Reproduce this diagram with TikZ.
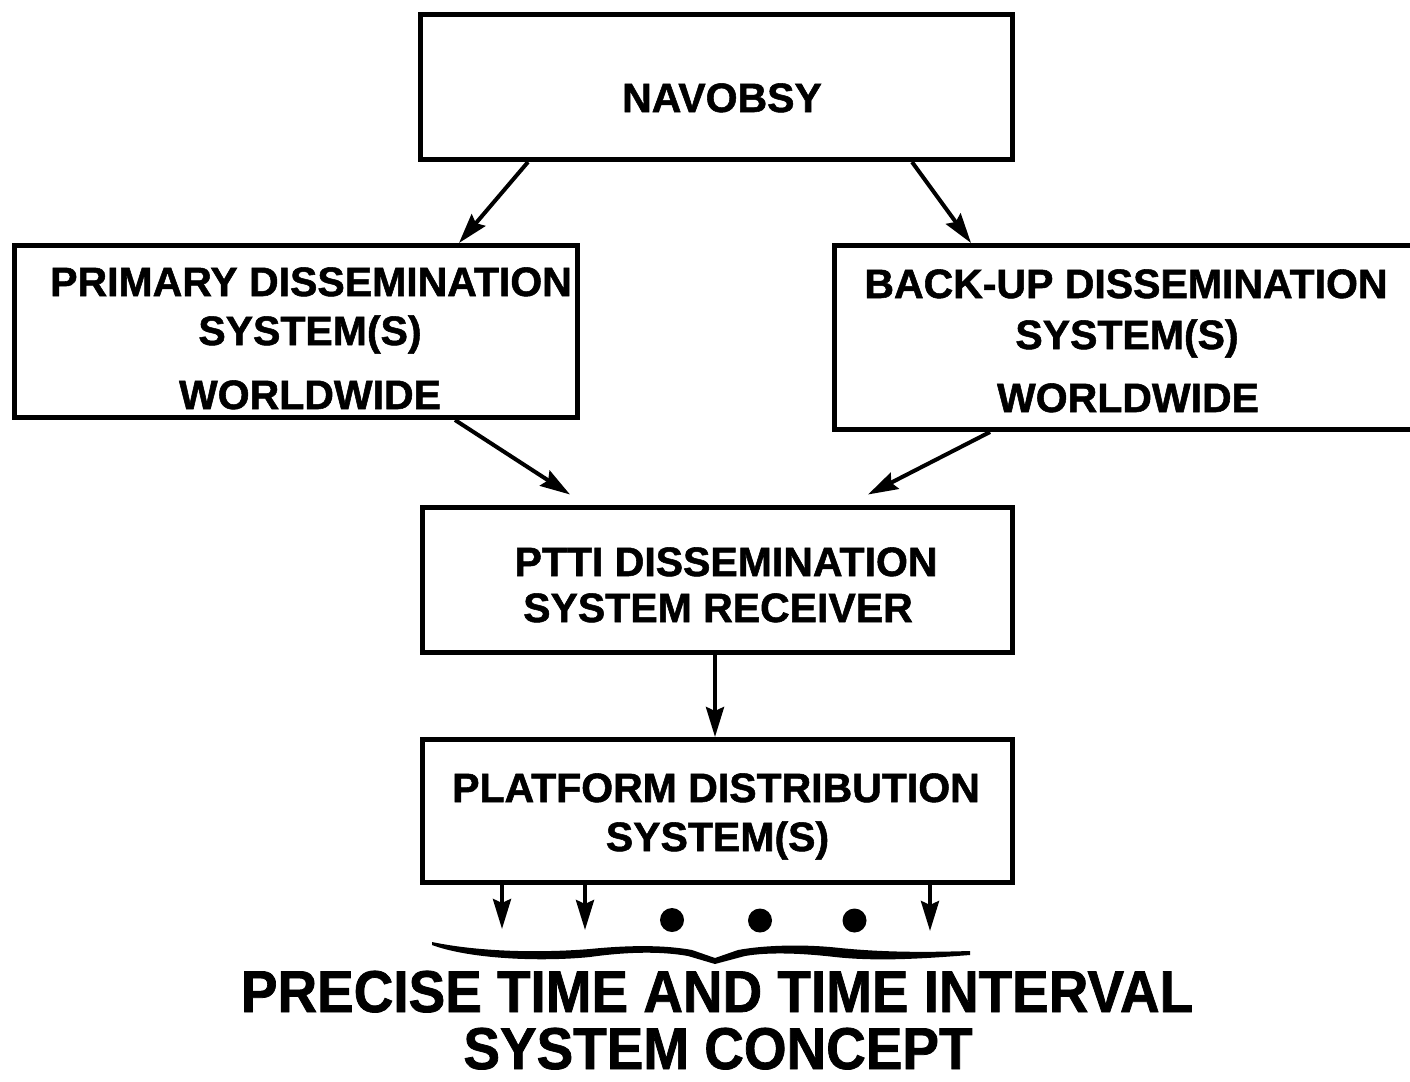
\documentclass[tikz,border=0pt]{standalone}
\usepackage{fontspec}
\setmainfont{Liberation Sans}[BoldFeatures={FakeBold=1.3}]
\usetikzlibrary{arrows.meta,calc}
\begin{document}
\begin{tikzpicture}[x=1pt,y=-1pt,
  box/.style={draw,line width=5pt,inner sep=0pt},
  txt/.style={font=\bfseries\fontsize{41}{41}\selectfont,anchor=base,inner sep=0pt},
  ttl/.style={font=\bfseries\fontsize{59}{59}\selectfont,anchor=base,inner sep=0pt},
  conn/.style={line width=4pt,-{Stealth[length=30pt,width=18pt,inset=4pt]}},
  dot/.style={circle,fill=black,minimum size=24pt,inner sep=0pt}]
\useasboundingbox (0,0) rectangle (1410,1081);
\clip (0,0) rectangle (1410,1081);

% boxes
\node[box,minimum width=592pt,minimum height=145pt] (nav) at (716.5,87) {};
\node[box,minimum width=563pt,minimum height=172pt] (prim) at (296,331.5) {};
\node[box,minimum width=585pt,minimum height=184pt] (back) at (1127,337.5) {};
\node[box,minimum width=590pt,minimum height=145pt] (ptti) at (717.5,580) {};
\node[box,minimum width=590pt,minimum height=143pt] (plat) at (717.5,811) {};

% texts
\node[txt] (navt) at (722,112) {NAVOBSY};
\node[txt] (prim1) at (311,296) {PRIMARY DISSEMINATION};
\node[txt] (prim2) at (310,345) {SYSTEM(S)};
\node[txt] (prim3) at (310,409) {WORLDWIDE};
\node[txt] (back1) at (1126,298) {BACK-UP DISSEMINATION};
\node[txt] (back2) at (1127,349) {SYSTEM(S)};
\node[txt] (back3) at (1128,412) {WORLDWIDE};
\node[txt] (ptti1) at (726,576) {PTTI DISSEMINATION};
\node[txt] (ptti2) at (718,622) {SYSTEM RECEIVER};
\node[txt] (plat1) at (716,802) {PLATFORM DISTRIBUTION};
\node[txt] (plat2) at (717.5,851) {SYSTEM(S)};

% connectors
\draw[conn] ([xshift=-188.5pt]nav.south) -- ([xshift=163pt]prim.north);
\draw[conn] ([xshift=195.5pt]nav.south) -- ([xshift=-156pt]back.north);
\draw[conn] ([xshift=159pt]prim.south) -- ([xshift=-147.5pt,yshift=10.5pt]ptti.north);
\draw[conn] ([xshift=-137pt]back.south) -- ([xshift=150.5pt,yshift=10.5pt]ptti.north);
\draw[conn] ([xshift=-2.5pt]ptti.south) -- ([xshift=-2.5pt]plat.north);

% outputs
\coordinate (o1) at (502,929);
\coordinate (o2) at (585,930);
\coordinate (o3) at (930,931);
\draw[conn] ([xshift=-215.5pt]plat.south) -- (o1);
\draw[conn] ([xshift=-132.5pt]plat.south) -- (o2);
\draw[conn] ([xshift=212.5pt]plat.south) -- (o3);
\node[dot] (d1) at (672,920) {};
\node[dot] (d2) at (760,920.5) {};
\node[dot] (d3) at (854.5,920.5) {};

% brace
\fill[black] (432,942) .. controls (480,952) and (540,953) .. (590,949)
  .. controls (630,945) and (665,945) .. (692,950) -- (715,958)
  -- (738,950) .. controls (765,945) and (805,944) .. (840,948)
  .. controls (890,953) and (935,952) .. (970,951)
  -- (970,955) .. controls (930,958) and (880,962) .. (835,957)
  .. controls (800,953) and (768,952) .. (745,956) -- (715,964)
  -- (688,956) .. controls (660,951) and (625,952) .. (590,957)
  .. controls (540,962) and (470,959) .. (432,945) -- cycle;

% title
\node[ttl] (title1) at (717,1012) {\scalebox{0.93}[1]{PRECISE TIME AND TIME INTERVAL}};
\node[ttl] (title2) at (718,1069) {\scalebox{0.93}[1]{SYSTEM CONCEPT}};
\end{tikzpicture}
\end{document}
